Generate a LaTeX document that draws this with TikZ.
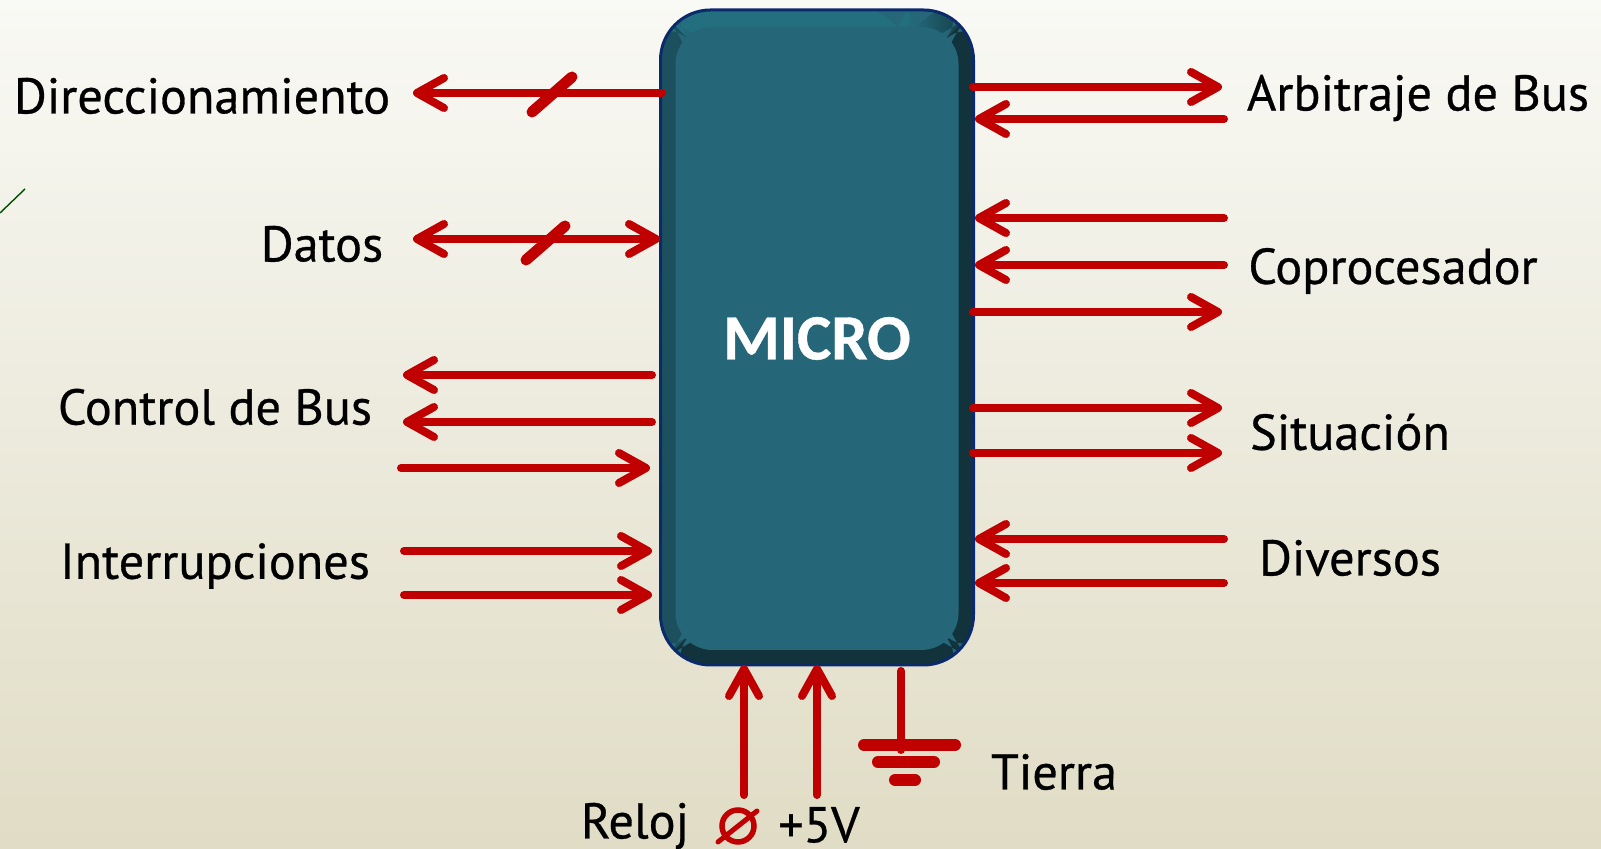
\documentclass[tikz,border=0pt]{standalone}
\usepackage{fontspec}
\setmainfont[FakeBold=0.6]{PT Sans}
\newfontfamily\microfont[BoldFeatures={FakeBold=0.6}]{Carlito}
\usetikzlibrary{arrows.meta}
\definecolor{busred}{HTML}{C00000}
\definecolor{microfill}{HTML}{256678}
\definecolor{microline}{HTML}{0B2A6B}
\definecolor{bgtop}{HTML}{F9F9F5}
\definecolor{bgbottom}{HTML}{E0DCC5}
\tikzset{
  barb/.tip = {Straight Barb[length=0.27cm,width=0.3cm,round]},
  bus/.style = {line width=0.08cm, color=busred, line cap=round, -barb},
  busdos/.style = {line width=0.08cm, color=busred, line cap=round, barb-barb},
  wire/.style = {line width=0.08cm, color=busred, line cap=round},
  bar/.style = {line width=0.12cm, color=busred, line cap=round},
  slash/.style = {line width=0.11cm, color=busred, line cap=round},
  etiq/.style = {font=\fontsize{14.3}{16}\selectfont, text=black, inner sep=0pt}
}
\begin{document}
\begin{tikzpicture}
\useasboundingbox (0,0) rectangle (16.01,8.49);
\shade[top color=bgtop, bottom color=bgbottom] (0,0) rectangle (16.01,8.49);
\draw[line width=0.4pt, color=black!70!green] (0,6.36) -- (0.25,6.6);

% caja
\node (micro) at (8.17,5.115) [draw=microline, line width=0.03cm, fill=microfill,
  minimum width=3.13cm, minimum height=6.55cm, rounded corners=0.5cm,
  path picture={
    \fill[color=microfill!78!black] (-1.6,3.3) -- (-1.2,2.9) -- (-1.2,-2.9) -- (-1.6,-3.3) -- cycle;
    \fill[color=microfill!50!black] (1.6,3.3) -- (1.2,2.9) -- (1.2,-2.9) -- (1.6,-3.3) -- cycle;
    \fill[color=microfill!95!cyan] (-1.6,3.3) -- (-1.2,2.9) -- (0.9,2.9) -- (0.9,3.3) -- cycle;
    \shade[left color=microfill!95!cyan, right color=microfill!50!black] (0.9,3.3) -- (0.9,2.9) -- (1.2,2.9) -- (1.6,3.3) -- cycle;
    \fill[color=microfill!50!black] (-1.6,-3.3) -- (-1.2,-2.9) -- (1.2,-2.9) -- (1.6,-3.3) -- cycle;
  }] {};
\node (microin) at (8.17,5.105) [fill=microfill, minimum width=2.83cm, minimum height=6.23cm,
  rounded corners=0.37cm, text=white, font=\microfont\bfseries\fontsize{18.4}{22}\selectfont] {MICRO};

% izquierda
\coordinate (dirA) at (6.62,7.56);
\coordinate (dirB) at (4.13,7.56);
\coordinate (dirC) at (5.32,7.37);
\coordinate (dirD) at (5.72,7.72);
\draw[bus] (dirA) -- (dirB);
\draw[slash] (dirC) -- (dirD);

\coordinate (datA) at (4.13,6.10);
\coordinate (datB) at (6.60,6.10);
\coordinate (datC) at (5.26,5.89);
\coordinate (datD) at (5.65,6.23);
\draw[busdos] (datA) -- (datB);
\draw[slash] (datC) -- (datD);

\coordinate (cbA) at (6.52,4.74);
\coordinate (cbB) at (4.03,4.74);
\coordinate (cbC) at (6.52,4.27);
\coordinate (cbD) at (4.03,4.27);
\coordinate (cbE) at (4.01,3.81);
\coordinate (cbF) at (6.50,3.81);
\draw[bus] (cbA) -- (cbB);
\draw[bus] (cbC) -- (cbD);
\draw[bus] (cbE) -- (cbF);

\coordinate (intA) at (4.04,2.98);
\coordinate (intB) at (6.52,2.98);
\coordinate (intC) at (4.04,2.54);
\coordinate (intD) at (6.52,2.54);
\draw[bus] (intA) -- (intB);
\draw[bus] (intC) -- (intD);

% derecha
\coordinate (arbA) at (9.73,7.62);
\coordinate (arbB) at (12.22,7.62);
\coordinate (arbC) at (12.24,7.30);
\coordinate (arbD) at (9.75,7.30);
\draw[bus] (arbA) -- (arbB);
\draw[bus] (arbC) -- (arbD);

\coordinate (copA) at (12.24,6.31);
\coordinate (copB) at (9.75,6.31);
\coordinate (copC) at (12.24,5.84);
\coordinate (copD) at (9.75,5.84);
\coordinate (copE) at (9.73,5.37);
\coordinate (copF) at (12.22,5.37);
\draw[bus] (copA) -- (copB);
\draw[bus] (copC) -- (copD);
\draw[bus] (copE) -- (copF);

\coordinate (sitA) at (9.73,4.41);
\coordinate (sitB) at (12.22,4.41);
\coordinate (sitC) at (9.73,3.96);
\coordinate (sitD) at (12.22,3.96);
\draw[bus] (sitA) -- (sitB);
\draw[bus] (sitC) -- (sitD);

\coordinate (divA) at (12.24,3.10);
\coordinate (divB) at (9.75,3.10);
\coordinate (divC) at (12.24,2.66);
\coordinate (divD) at (9.75,2.66);
\draw[bus] (divA) -- (divB);
\draw[bus] (divC) -- (divD);

% abajo
\coordinate (relA) at (7.44,0.54);
\coordinate (relB) at (7.44,1.84);
\coordinate (volA) at (8.17,0.54);
\coordinate (volB) at (8.17,1.84);
\draw[bus] (relA) -- (relB);
\draw[bus] (volA) -- (volB);

\coordinate (tieA) at (9.01,1.78);
\coordinate (tieB) at (9.01,0.99);
\draw[wire] (tieA) -- (tieB);
\draw[bar] (8.64,1.04) -- (9.55,1.04);
\draw[bar] (8.78,0.87) -- (9.34,0.87);
\draw[bar] (8.95,0.69) -- (9.15,0.69);

\node (fase) at (7.38,0.23) [circle, draw=busred, line width=0.055cm, minimum size=0.32cm, inner sep=0pt] {};
\coordinate (faseA) at (7.18,0.07);
\coordinate (faseB) at (7.57,0.38);
\draw[wire, line width=0.05cm] (faseA) -- (faseB);

% textos
\node (dir) at (2.02,7.53) [etiq] {Direccionamiento};
\node (dat) at (3.22,6.05) [etiq] {Datos};
\node (cb) at (2.15,4.42) [etiq] {Control de Bus};
\node (int) at (2.15,2.83) [etiq] {Interrupciones};
\node (arb) at (14.18,7.51) [etiq] {Arbitraje de Bus};
\node (cop) at (13.93,5.78) [etiq] {Coprocesador};
\node (sit) at (13.50,4.17) [etiq] {Situación};
\node (div) at (13.50,2.91) [etiq] {Diversos};
\node (tie) at (10.54,0.77) [etiq] {Tierra};
\node (rel) at (6.35,0.23) [etiq] {Reloj};
\node (vol) at (8.19,0.24) [etiq] {+5V};
\end{tikzpicture}
\end{document}
